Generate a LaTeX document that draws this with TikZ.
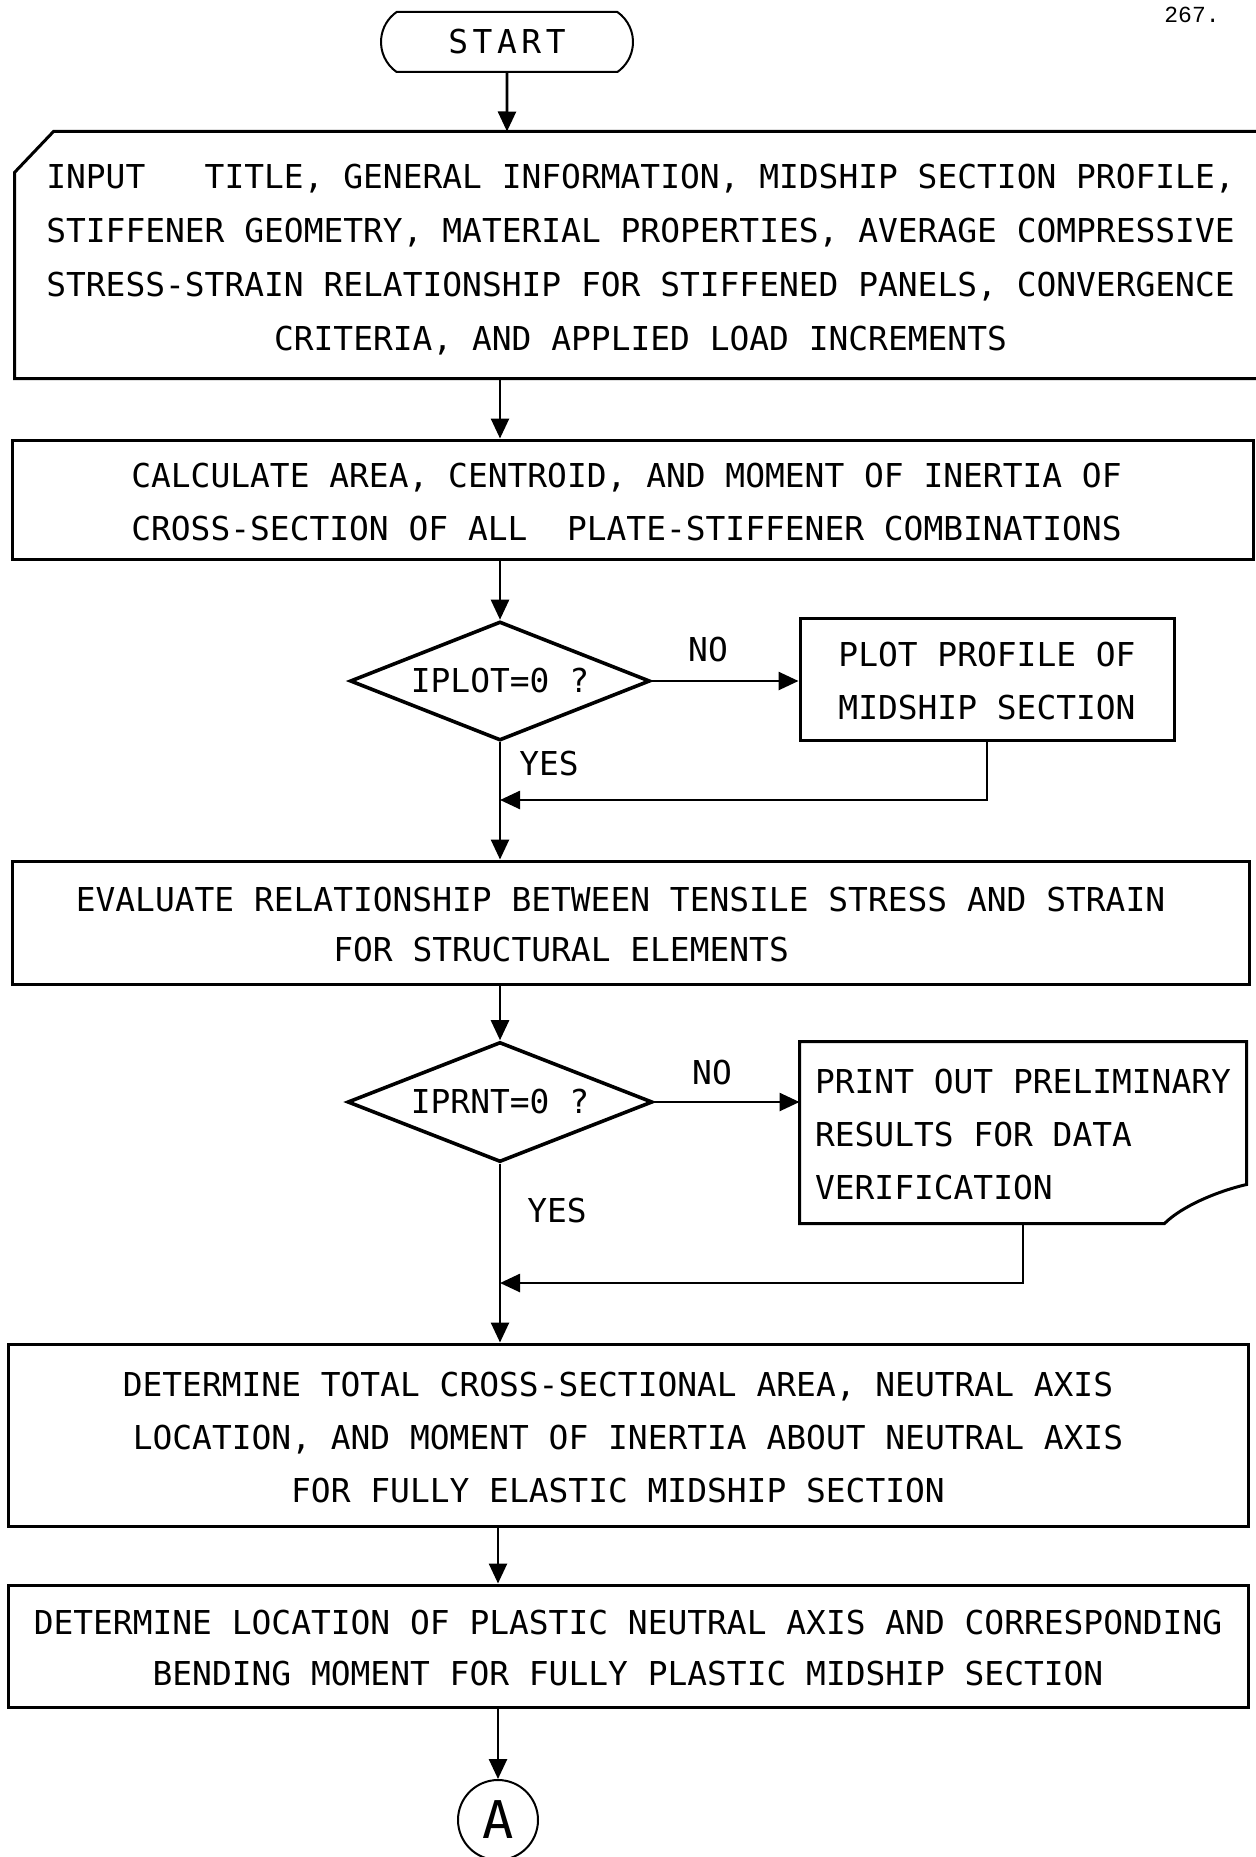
\documentclass[tikz,border=0pt]{standalone}
\usepackage{fontspec}
\usetikzlibrary{arrows.meta,shapes.geometric,shapes.misc,calc}
\newfontfamily\plotfont{DejaVu Sans Mono}
\newfontfamily\plotwide{DejaVu Sans Mono}[LetterSpace=14]
\newfontfamily\pagenofont{Liberation Mono}
% plotter lettering with a given line pitch
\newcommand\plottext[1]{\plotfont\fontsize{16.45pt}{#1}\selectfont\frenchspacing}
% struts on the first and last line fix where a text block sits in its box
\newcommand\topstrut{\rule{0pt}{19pt}}
\newcommand\laststrut{\rule[-5pt]{0pt}{5pt}}
\tikzset{
  edge/.style={line width=1.5pt, line join=miter},
  box/.style={draw, rectangle, line width=1.5pt, inner sep=0pt, align=center,
    font=\plottext{26.5pt}, execute at end node=\laststrut},
  decision/.style={draw, diamond, line width=1.8pt, inner sep=0pt, aspect=2.5,
    font=\plottext{26.5pt}},
  terminal/.style={draw, rounded rectangle, rounded rectangle arc length=110,
    line width=1pt, inner sep=0pt, font=\plotwide\fontsize{16.45pt}{20pt}\selectfont},
  connector/.style={draw, circle, line width=1pt, inner sep=0pt,
    font=\plotfont\fontsize{26pt}{30pt}\selectfont},
  tag/.style={inner sep=0pt, font=\plottext{26.5pt}},
  arr/.style={line width=1.3pt, -{Triangle[length=10pt,width=9pt]}},
}
\begin{document}
\begin{tikzpicture}[x=0.5pt,y=-0.5pt]
\useasboundingbox (0,0) rectangle (1255,1857);

% page number
\node[inner sep=0pt, font=\pagenofont\fontsize{11.5pt}{12pt}\selectfont] (page) at (1192,15) {267.};

% start terminal
\node[terminal, minimum width=126pt, minimum height=30pt] (start) at (507,42) {START};

% input card (outline drawn below, the right side runs off the sheet)
\node[box, draw=none, minimum width=624.5pt, minimum height=122pt, font=\plottext{27pt}] (input) at (640.5,255)
  {\topstrut INPUT\ \ \ TITLE, GENERAL INFORMATION, MIDSHIP SECTION PROFILE,\\
   STIFFENER GEOMETRY, MATERIAL PROPERTIES, AVERAGE COMPRESSIVE\\
   STRESS-STRAIN RELATIONSHIP FOR STIFFENED PANELS, CONVERGENCE\\
   CRITERIA, AND APPLIED LOAD INCREMENTS};
\draw[edge] (input.north east) -- ($(input.north west)+(39,0)$)
  -- ($(input.north west)+(0,41)$) -- (input.south west) -- (input.south east);

\node[box, minimum width=620.5pt, minimum height=59.5pt] (calc) at (632.5,499.5)
  {\topstrut CALCULATE AREA, CENTROID, AND MOMENT OF INERTIA OF\hspace*{6pt}\\
   CROSS-SECTION OF ALL\ \ PLATE-STIFFENER COMBINATIONS\hspace*{6pt}};

\node[decision, minimum width=150pt, minimum height=59.5pt] (d1) at (500,681) {IPLOT=0 ?};

\node[box, minimum width=187pt, minimum height=61pt] (plot) at (987,679)
  {\topstrut PLOT PROFILE OF\\ MIDSHIP SECTION};

\node[box, minimum width=618.5pt, minimum height=61.5pt, align=left, font=\plottext{25pt}] (eval) at (630.5,922.5)
  {\topstrut EVALUATE RELATIONSHIP BETWEEN TENSILE STRESS AND STRAIN\hspace*{10pt}\\
   \phantom{XXXXXXXXXXXXX}FOR STRUCTURAL ELEMENTS};

\node[decision, minimum width=152.5pt, minimum height=60pt] (d2) at (500,1102) {IPRNT=0 ?};

% printed document (outline drawn below)
\node[box, draw=none, minimum width=222pt, minimum height=89.5pt, align=left] (print) at (1023,1132.5)
  {\topstrut PRINT OUT PRELIMINARY\\ RESULTS FOR DATA\\ VERIFICATION};
\draw[edge] (print.north west) -- (print.north east) -- ($(print.south east)+(0,-39)$)
  .. controls +(-30,7) and +(17,-17) .. ($(print.south east)+(-82,0)$)
  -- (print.south west) -- cycle;

\node[box, minimum width=620pt, minimum height=91pt] (det1) at (628,1435)
  {\topstrut DETERMINE TOTAL CROSS-SECTIONAL AREA, NEUTRAL AXIS\hspace*{10pt}\\
   LOCATION, AND MOMENT OF INERTIA ABOUT NEUTRAL AXIS\hspace*{10pt}\\
   FOR FULLY ELASTIC MIDSHIP SECTION\hspace*{10pt}};

\node[box, minimum width=620pt, minimum height=61pt, font=\plottext{25.5pt}] (det2) at (628,1646)
  {\topstrut DETERMINE LOCATION OF PLASTIC NEUTRAL AXIS AND CORRESPONDING\\
   BENDING MOMENT FOR FULLY PLASTIC MIDSHIP SECTION};

\node[connector, minimum size=40pt] (A) at (498,1820) {A};

% branch labels
\node[tag] (no1) at (708,650) {NO};
\node[tag] (yes1) at (549,764) {YES};
\node[tag] (no2) at (712,1073) {NO};
\node[tag] (yes2) at (557,1211) {YES};

% merge points on the main line
\coordinate (j1) at (500,800);
\coordinate (j2) at (500,1283);

% connectors
\draw[arr] (start) -- (start |- input.north);
\draw[arr] (input.south -| d1) -- (calc.north -| d1);
\draw[arr] (calc.south -| d1) -- (d1.north);
\draw[arr] (d1.east) -- (d1.east -| plot.west);
\draw[arr] (d1.south) -- (d1.south |- eval.north);
\draw[arr] (plot.south) |- (j1);
\draw[arr] (eval.south -| d2) -- (d2.north);
\draw[arr] (d2.east) -- (d2.east -| print.west);
\draw[arr] (d2.south) -- (d2.south |- det1.north);
\draw[arr] (print.south) |- (j2);
\draw[arr] (det1.south -| A) -- (A |- det2.north);
\draw[arr] (det2.south -| A) -- (A);
\end{tikzpicture}
\end{document}
